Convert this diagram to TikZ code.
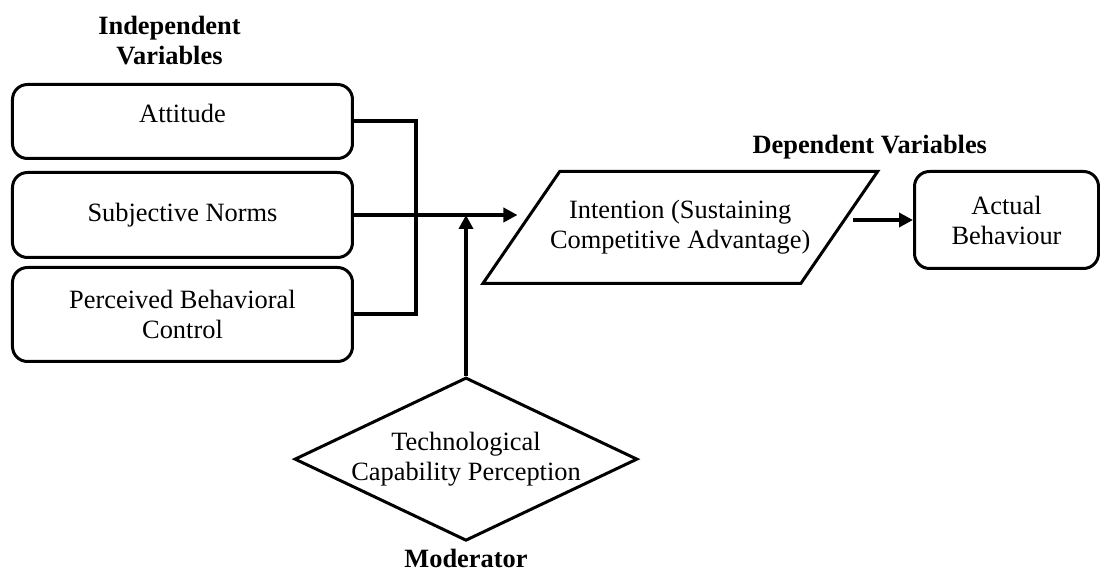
\documentclass[tikz,border=0pt]{standalone}
\usepackage{fontspec}
\setmainfont{Liberation Serif}
\usetikzlibrary{positioning,shapes.geometric,arrows.meta}
\tikzset{
    varbox/.style ={
        shape=rectangle,
        rounded corners=7.5pt,
        draw=black,
        line width=1.5pt,
        align=center,
        minimum width=170pt
    },
    slantbox/.style ={
        shape=trapezium,
        trapezium left angle=43,
        trapezium right angle=137,
        trapezium stretches body=true,
        inner xsep=-4.8pt,
        draw=black,
        line width=1.5pt,
        align=center,
        minimum width=179pt,
        minimum height=56pt
    },
    diamondbox/.style ={
        shape=diamond,
        aspect=2.1,
        inner sep=0pt,
        draw=black,
        line width=1.5pt,
        align=center,
        minimum width=167.5pt,
        minimum height=80pt
    },
    heading/.style ={
        font=\bfseries,
        align=center,
        inner sep=0pt
    },
    link/.style ={
        line width=2pt
    },
    arrowlink/.style ={
        line width=2pt,
        -{Triangle[length=7pt,width=7pt]}
    }
}

\begin{document}
\fontsize{13.2}{15}\selectfont
\begin{tikzpicture}
    \node[varbox,minimum height=37pt,text depth=8pt] (att) {Attitude};
    \useasboundingbox ([xshift=-5.5pt,yshift=41.5pt]att.north west) rectangle ++(550pt,-286pt);
    \node[varbox,minimum height=42.5pt,below=5.5pt of att] (sub) {Subjective Norms};
    \node[varbox,minimum height=47pt,below=3.5pt of sub] (pbc) {Perceived Behavioral\\Control};
    \node[slantbox,right=82.75pt of sub,yshift=-6.25pt] (int) {Intention (Sustaining\\Competitive Advantage)};
    \node[varbox,minimum width=92pt,minimum height=48.5pt,right=36pt of int,yshift=3.75pt] (act) {Actual\\Behaviour};
    \node[diamondbox,below=6.5pt of pbc,xshift=141.75pt] (tcp) {Technological\\Capability Perception};
    \node[heading,above=9pt of att,xshift=-6.5pt] (iv) {Independent\\Variables};
    \node[heading,above=5pt of int,xshift=94.75pt] (dv) {Dependent Variables};
    \node[heading,below=3pt of tcp] (mod) {Moderator};
    % joins from the three independent variables
    \draw[link] (att.east) -- ++(31pt,0) |- (pbc.east);
    \draw[arrowlink] (sub.east) -- ([xshift=-1pt]int.west |- sub.east);
    \draw[arrowlink] (tcp.north) -- (tcp.north |- sub.east);
    \draw[arrowlink] ([xshift=6pt]int.east |- act.west) -- (act.west);
\end{tikzpicture}
\end{document}
